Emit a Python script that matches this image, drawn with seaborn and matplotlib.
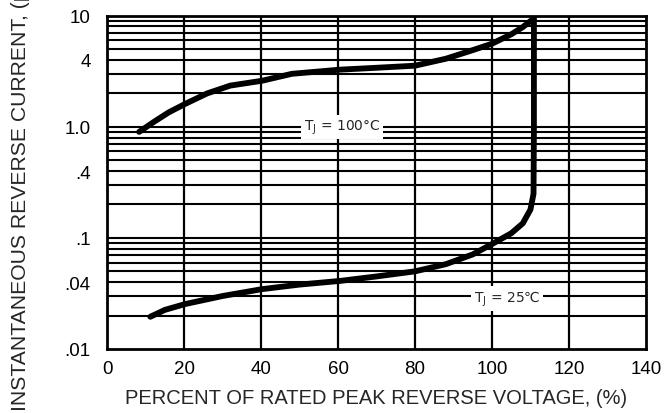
import numpy as np
import pandas as pd
import seaborn as sns
import matplotlib.pyplot as plt
from matplotlib.ticker import FixedLocator, LogLocator, NullFormatter

# curve: percent of rated voltage vs current
pct_100 = [8.3, 12, 16, 20.3, 26, 32, 40.3, 48, 60.5, 70, 80, 88, 95, 100, 105, 108, 110.8]
cur_100 = [0.90, 1.10, 1.35, 1.61, 2.0, 2.35, 2.6, 3.0, 3.27, 3.4, 3.55, 4.1, 4.9, 5.6, 6.8, 7.9, 9.4]

pct_25 = [11.2, 15, 20.3, 30, 40.3, 50, 60.5, 70, 80, 88, 95, 100, 105, 108, 110, 110.8, 110.9, 110.9]
cur_25 = [0.0195, 0.0225, 0.0254, 0.030, 0.0346, 0.038, 0.041, 0.045, 0.050, 0.058, 0.071, 0.088, 0.11, 0.135, 0.18, 0.25, 1.0, 9.4]

ytick_vals = [10, 4, 1.0, 0.4, 0.1, 0.04, 0.01]
ytick_text = ["10", "4", "1.0", ".4", ".1", ".04", ".01"]
xtick_vals = [0, 20, 40, 60, 80, 100, 120, 140]

df = pd.concat([
    pd.DataFrame({"pct": pct_100, "cur": cur_100, "tj": "100"}),
    pd.DataFrame({"pct": pct_25, "cur": cur_25, "tj": "25"}),
])

sns.set_style("white")
plt.rcParams['font.family'] = ['Liberation Sans', 'DejaVu Sans']
plt.rcParams['mathtext.fontset'] = 'dejavusans'

fig = plt.figure(figsize=(6.7, 4.14), dpi=100)
ax = fig.add_axes([0.16, 0.1546, 0.804, 0.805])

ax.set_yscale("log")
ax.set_xlim(0, 140)
ax.set_ylim(0.01, 10)

# grid
ax.xaxis.set_major_locator(FixedLocator(xtick_vals))
ax.yaxis.set_major_locator(FixedLocator(ytick_vals))
ax.set_yticklabels(ytick_text)
ax.yaxis.set_minor_locator(LogLocator(base=10, subs=np.arange(2, 10)))
ax.yaxis.set_minor_formatter(NullFormatter())
ax.grid(False)
for v in xtick_vals[1:-1]:
    ax.axvline(v, color="black", lw=1.6, zorder=1)
for dec in [0.01, 0.1, 1.0]:
    for s in range(1, 10):
        if dec * s > 0.01:
            ax.axhline(dec * s, color="black", lw=1.5, zorder=1)

sns.lineplot(data=df, x="pct", y="cur", units="tj", estimator=None, sort=False,
             color="black", lw=4.2, ax=ax, zorder=3, legend=False)

ax.text(61, 1.0, r"T$_\mathregular{J}$ = 100°C", fontsize=10, ha="center", va="center",
        family="DejaVu Sans",
        bbox=dict(facecolor="white", edgecolor="none", pad=2), zorder=4)
ax.text(104, 0.0285, r"T$_\mathregular{J}$ = 25℃", fontsize=10, ha="center", va="center",
        family="DejaVu Sans",
        bbox=dict(facecolor="white", edgecolor="none", pad=2), zorder=4)

for sp in ax.spines.values():
    sp.set_visible(True)
    sp.set_color("black")
    sp.set_linewidth(2)

ax.tick_params(axis="both", which="both", length=0, labelsize=13.5, colors="black")
ax.tick_params(axis="y", pad=12)
ax.tick_params(axis="x", pad=8)

ax.set_xlabel("PERCENT OF RATED PEAK REVERSE VOLTAGE, (%)", fontsize=14.5, labelpad=8)
ax.set_ylabel("")
fig.text(0.017, 0.008, "INSTANTANEOUS REVERSE CURRENT, (µA)", fontsize=15.2,
         rotation=90, ha="left", va="bottom")

fig.savefig("out.png", dpi=100)
